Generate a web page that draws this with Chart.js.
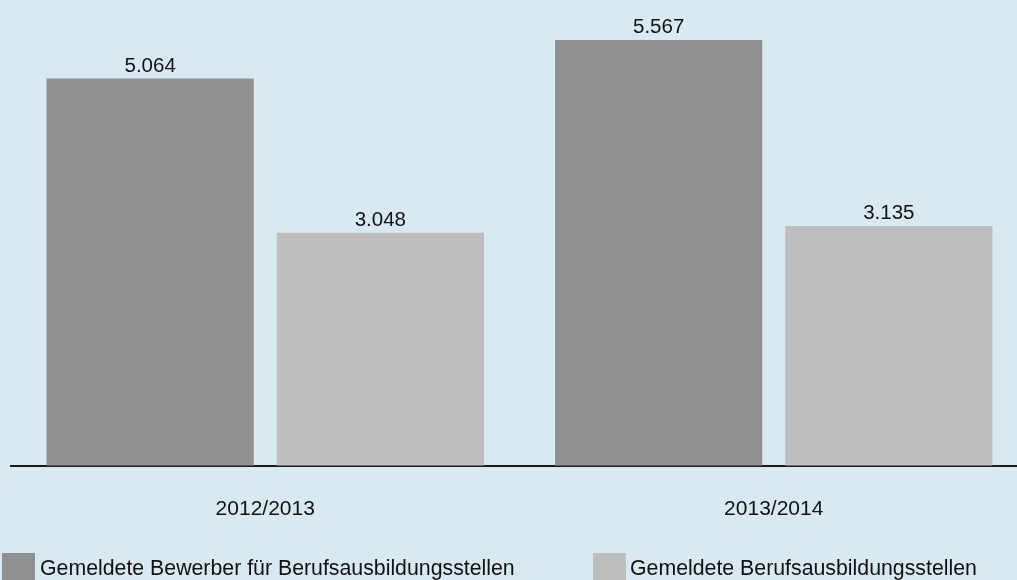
<!DOCTYPE html>
<html>
<head>
<meta charset="utf-8">
<script src="https://cdn.jsdelivr.net/npm/chart.js@4/dist/chart.umd.min.js"></script>
<style>
  html, body { margin:0; padding:0; width:1017px; height:580px; overflow:hidden; background:#d9e9f2; }
  #wrap { position:absolute; left:0; top:0; width:1029px; height:580px; }
  .lg { position:absolute; font-family:"Liberation Sans", Arial, sans-serif; font-size:21.3px; color:#111; line-height:24px; white-space:nowrap; }
  .box { position:absolute; width:33px; height:28px; }
</style>
</head>
<body>
<div id="wrap"><canvas id="c" width="1029" height="580"></canvas></div>
<div class="box" style="left:2px; top:553px; background:#909090;"></div>
<div class="lg" id="l1" style="left:40px; top:556px;"></div>
<div class="box" style="left:593px; top:553px; background:#bebebe;"></div>
<div class="lg" id="l2" style="left:630px; top:556px;"></div>
<script>
const categories = ["2012/2013", "2013/2014"];
const seriesNames = ["Gemeldete Bewerber für Berufsausbildungsstellen", "Gemeldete Berufsausbildungsstellen"];
const bewerber = [5064, 5567];
const stellen = [3048, 3135];
const colors = ["#909090", "#bebebe"];

document.getElementById('l1').textContent = seriesNames[0];
document.getElementById('l2').textContent = seriesNames[1];

function fmt(v) {
  return String(v).replace(/\B(?=(\d{3})+(?!\d))/g, '.');
}

const valueLabels = {
  id: 'valueLabels',
  afterDatasetsDraw(chart) {
    const ctx = chart.ctx;
    ctx.save();
    ctx.font = '20.5px "Liberation Sans", Arial, sans-serif';
    ctx.fillStyle = '#111';
    ctx.textAlign = 'center';
    ctx.textBaseline = 'alphabetic';
    chart.data.datasets.forEach((ds, i) => {
      chart.getDatasetMeta(i).data.forEach((el, j) => {
        ctx.fillText(fmt(ds.data[j]), el.x, el.y - 7);
      });
    });
    ctx.restore();
  }
};

new Chart(document.getElementById('c'), {
  type: 'bar',
  data: {
    labels: categories,
    datasets: [
      { label: seriesNames[0], data: bewerber, backgroundColor: colors[0] },
      { label: seriesNames[1], data: stellen, backgroundColor: colors[1] }
    ]
  },
  options: {
    responsive: false,
    animation: false,
    devicePixelRatio: 1,
    layout: { padding: { left: 11, right: 1, top: 7, bottom: 27 } },
    datasets: { bar: { categoryPercentage: 0.9055, barPercentage: 0.9 } },
    plugins: { legend: { display: false }, tooltip: { enabled: false } },
    scales: {
      x: {
        grid: { display: false, drawTicks: false },
        border: { display: true, color: '#1a1a1a', width: 2 },
        ticks: { color: '#111', padding: 31, font: { family: '"Liberation Sans", Arial, sans-serif', size: 21 } }
      },
      y: { display: false, min: 0, max: 6000 }
    }
  },
  plugins: [valueLabels]
});
</script>
</body>
</html>
